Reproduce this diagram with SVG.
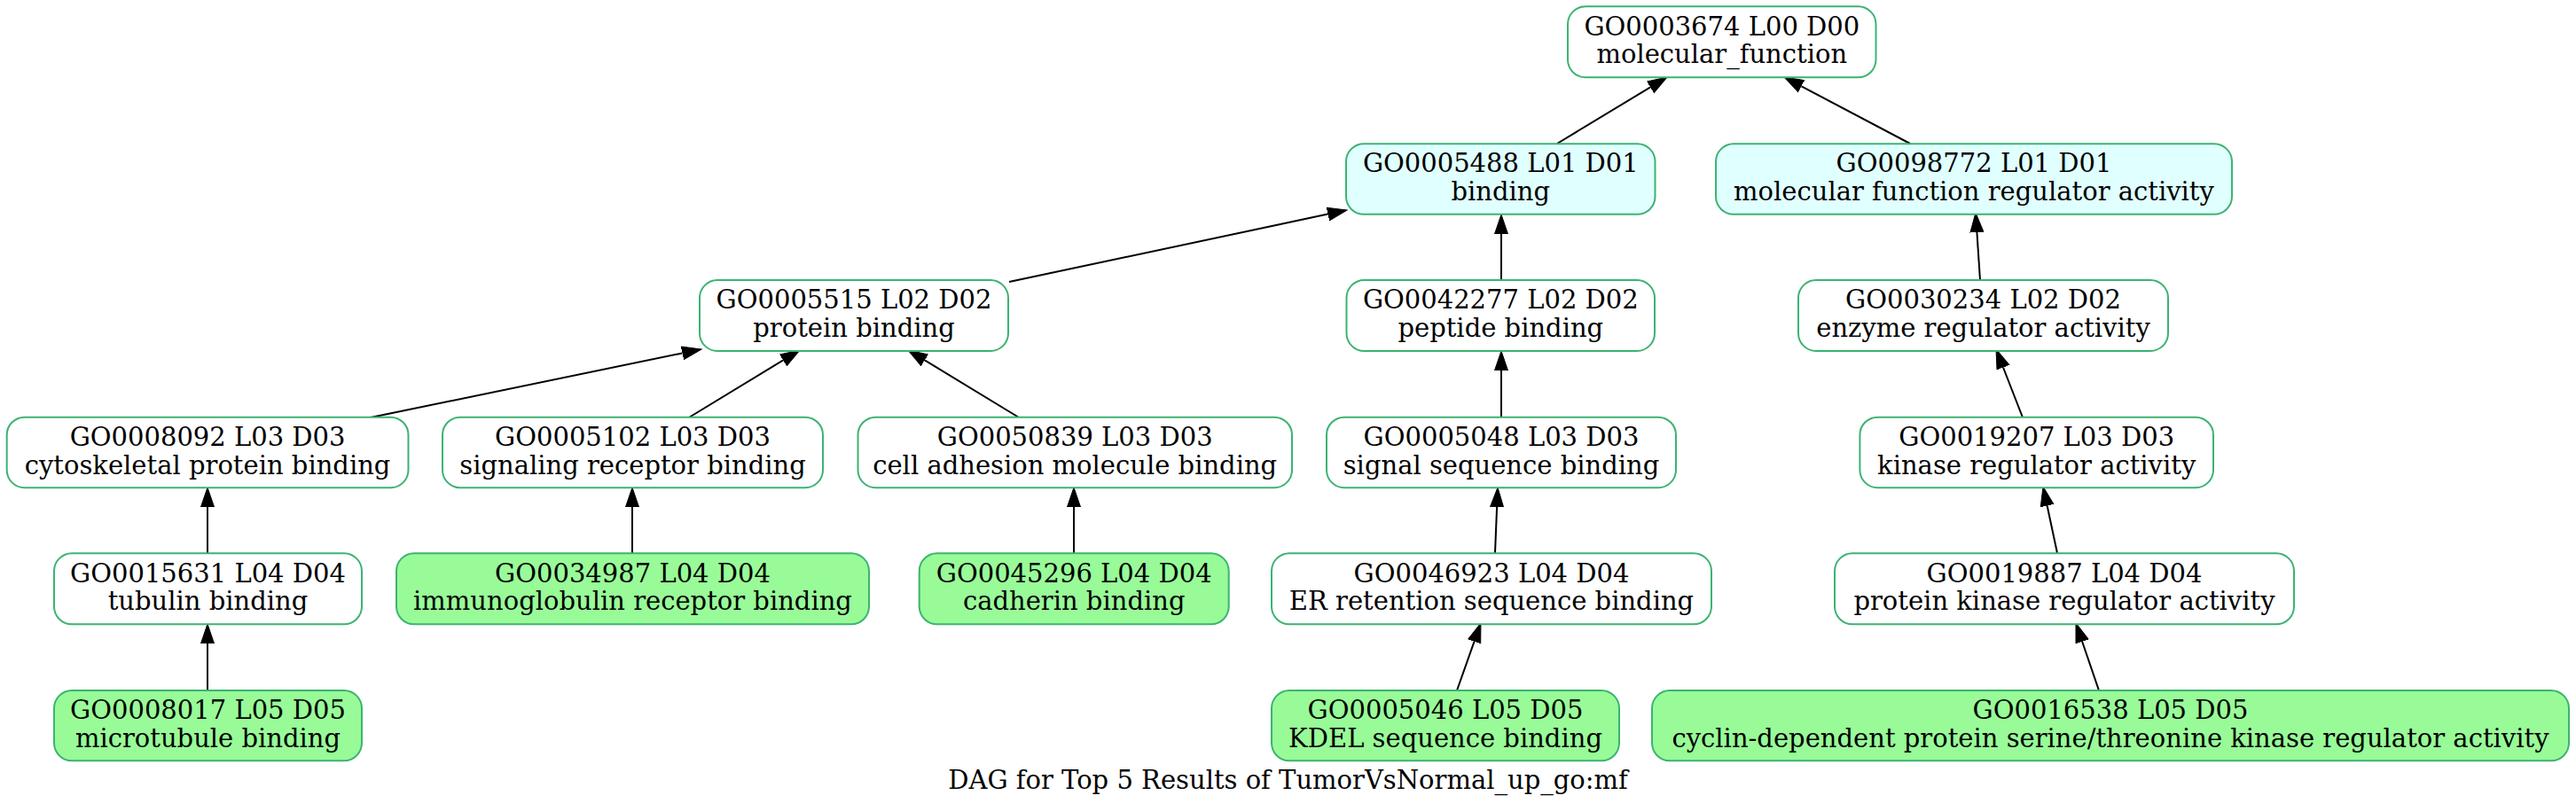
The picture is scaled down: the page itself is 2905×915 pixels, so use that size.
<svg xmlns="http://www.w3.org/2000/svg" width="2905" height="915" viewBox="0 0 2905 915">
<style>
.n rect{stroke:#3cb371;stroke-width:2;}
.w{fill:#ffffff;}
.c{fill:#e0ffff;}
.g{fill:#98fb98;}
text{font-family:"DejaVu Serif","Liberation Serif",serif;font-size:29px;fill:#000;text-anchor:middle;}
.e line{stroke:#000;stroke-width:2;fill:none;}
</style>
<defs>
<marker id="arr" markerUnits="userSpaceOnUse" markerWidth="24" markerHeight="18" viewBox="0 0 24 18" refX="0" refY="9" orient="auto">
<path d="M0,1.5 L22,9 L0,16.5 z" fill="#000" stroke="#000" stroke-width="1"/>
</marker>
</defs>
<rect width="2905" height="915" fill="#fff"/>
<g id="edges" class="e">
<line x1="1756" y1="162" x2="1861.2" y2="98.4" marker-end="url(#arr)"/>
<line x1="2154" y1="162" x2="2031.5" y2="97.3" marker-end="url(#arr)"/>
<line x1="1138" y1="318" x2="1497.5" y2="241.6" marker-end="url(#arr)"/>
<line x1="1693" y1="316" x2="1693" y2="264" marker-end="url(#arr)"/>
<line x1="2233" y1="316" x2="2229.4" y2="262" marker-end="url(#arr)"/>
<line x1="418" y1="471" x2="769.5" y2="398.4" marker-end="url(#arr)"/>
<line x1="777" y1="471" x2="883.2" y2="406.4" marker-end="url(#arr)"/>
<line x1="1149" y1="471" x2="1042.8" y2="406.4" marker-end="url(#arr)"/>
<line x1="1693" y1="471" x2="1693" y2="418" marker-end="url(#arr)"/>
<line x1="2281" y1="471" x2="2259" y2="414.5" marker-end="url(#arr)"/>
<line x1="234" y1="624" x2="234" y2="572" marker-end="url(#arr)"/>
<line x1="713" y1="624" x2="713" y2="572" marker-end="url(#arr)"/>
<line x1="1211" y1="624" x2="1211" y2="572" marker-end="url(#arr)"/>
<line x1="1686" y1="624" x2="1688.1" y2="572" marker-end="url(#arr)"/>
<line x1="2320" y1="624" x2="2308.6" y2="570.5" marker-end="url(#arr)"/>
<line x1="234" y1="779" x2="234" y2="726" marker-end="url(#arr)"/>
<line x1="1643" y1="779" x2="1662.6" y2="723.7" marker-end="url(#arr)"/>
<line x1="2367" y1="779" x2="2348.1" y2="723.8" marker-end="url(#arr)"/>
</g>
<g id="GO0003674" class="n"><rect class="w" x="1768" y="7.3" width="347.5" height="80" rx="20"/><text x="1941.8" y="39.7">GO0003674 L00 D00</text><text x="1941.8" y="71.3">molecular_function</text></g>
<g id="GO0005488" class="n"><rect class="c" x="1518" y="162.3" width="348.5" height="79.5" rx="20"/><text x="1692.3" y="194.4">GO0005488 L01 D01</text><text x="1692.3" y="226">binding</text></g>
<g id="GO0098772" class="n"><rect class="c" x="1935" y="162.3" width="582" height="79.5" rx="20"/><text x="2226" y="194.4">GO0098772 L01 D01</text><text x="2226" y="226">molecular function regulator activity</text></g>
<g id="GO0005515" class="n"><rect class="w" x="789" y="316" width="348" height="80" rx="20"/><text x="963" y="348.4">GO0005515 L02 D02</text><text x="963" y="380">protein binding</text></g>
<g id="GO0042277" class="n"><rect class="w" x="1518.5" y="316" width="347.5" height="80" rx="20"/><text x="1692.3" y="348.4">GO0042277 L02 D02</text><text x="1692.3" y="380">peptide binding</text></g>
<g id="GO0030234" class="n"><rect class="w" x="2028" y="316" width="417" height="80" rx="20"/><text x="2236.5" y="348.4">GO0030234 L02 D02</text><text x="2236.5" y="380">enzyme regulator activity</text></g>
<g id="GO0008092" class="n"><rect class="w" x="7.7" y="470.7" width="452.8" height="79.5" rx="20"/><text x="234.1" y="502.9">GO0008092 L03 D03</text><text x="234.1" y="534.5">cytoskeletal protein binding</text></g>
<g id="GO0005102" class="n"><rect class="w" x="499" y="470.7" width="429" height="79.5" rx="20"/><text x="713.5" y="502.9">GO0005102 L03 D03</text><text x="713.5" y="534.5">signaling receptor binding</text></g>
<g id="GO0050839" class="n"><rect class="w" x="967.5" y="470.7" width="489.5" height="79.5" rx="20"/><text x="1212.2" y="502.9">GO0050839 L03 D03</text><text x="1212.2" y="534.5">cell adhesion molecule binding</text></g>
<g id="GO0005048" class="n"><rect class="w" x="1496" y="470.7" width="394" height="79.5" rx="20"/><text x="1693" y="502.9">GO0005048 L03 D03</text><text x="1693" y="534.5">signal sequence binding</text></g>
<g id="GO0019207" class="n"><rect class="w" x="2097.4" y="470.7" width="398.6" height="79.5" rx="20"/><text x="2296.7" y="502.9">GO0019207 L03 D03</text><text x="2296.7" y="534.5">kinase regulator activity</text></g>
<g id="GO0015631" class="n"><rect class="w" x="61" y="624.3" width="347" height="80" rx="20"/><text x="234.5" y="656.7">GO0015631 L04 D04</text><text x="234.5" y="688.3">tubulin binding</text></g>
<g id="GO0034987" class="n"><rect class="g" x="447" y="624.3" width="533" height="80" rx="20"/><text x="713.5" y="656.7">GO0034987 L04 D04</text><text x="713.5" y="688.3">immunoglobulin receptor binding</text></g>
<g id="GO0045296" class="n"><rect class="g" x="1036.7" y="624.3" width="349" height="80" rx="20"/><text x="1211.2" y="656.7">GO0045296 L04 D04</text><text x="1211.2" y="688.3">cadherin binding</text></g>
<g id="GO0046923" class="n"><rect class="w" x="1434" y="624.3" width="496" height="80" rx="20"/><text x="1682" y="656.7">GO0046923 L04 D04</text><text x="1682" y="688.3">ER retention sequence binding</text></g>
<g id="GO0019887" class="n"><rect class="w" x="2069" y="624.3" width="518" height="80" rx="20"/><text x="2328" y="656.7">GO0019887 L04 D04</text><text x="2328" y="688.3">protein kinase regulator activity</text></g>
<g id="GO0008017" class="n"><rect class="g" x="61" y="779" width="347" height="79.3" rx="20"/><text x="234.5" y="811.1">GO0008017 L05 D05</text><text x="234.5" y="842.7">microtubule binding</text></g>
<g id="GO0005046" class="n"><rect class="g" x="1434" y="779" width="392" height="79.3" rx="20"/><text x="1630" y="811.1">GO0005046 L05 D05</text><text x="1630" y="842.7">KDEL sequence binding</text></g>
<g id="GO0016538" class="n"><rect class="g" x="1863" y="779" width="1034" height="79.3" rx="20"/><text x="2380" y="811.1">GO0016538 L05 D05</text><text x="2380" y="842.7">cyclin-dependent protein serine/threonine kinase regulator activity</text></g>
<text x="1452.5" y="890">DAG for Top 5 Results of TumorVsNormal_up_go:mf</text>
</svg>
